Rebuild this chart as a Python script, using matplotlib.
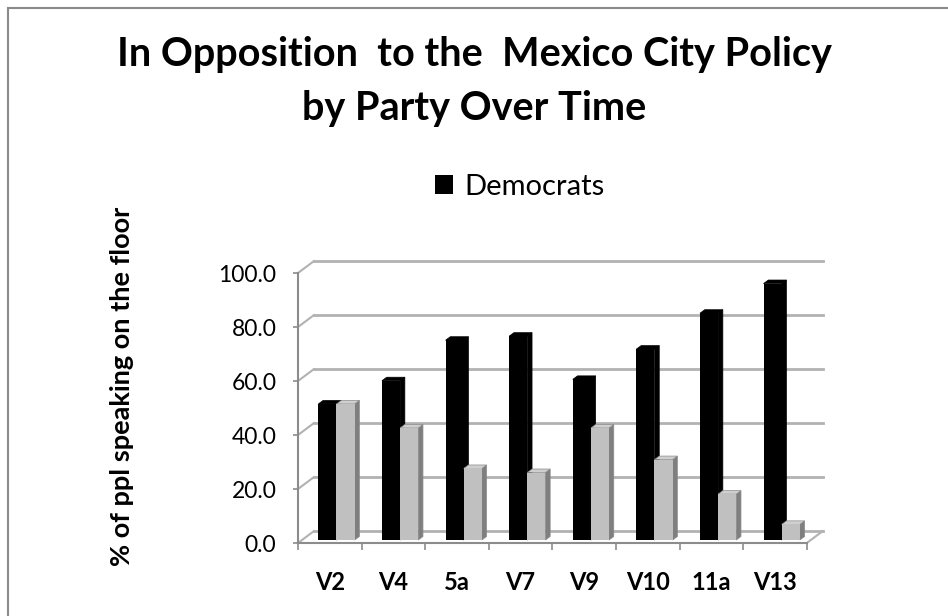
import matplotlib.pyplot as plt
from matplotlib.patches import Polygon, Rectangle

# opposition share per vote, by party
categories = ['V2', 'V4', '5a', 'V7', 'V9', 'V10', '11a', 'V13']
democrats = [50.4, 59.0, 74.0, 75.5, 59.5, 70.7, 84.0, 95.0]
republicans = [50.4, 41.5, 26.5, 25.0, 41.5, 29.8, 17.0, 5.8]
y_ticks = [0, 20, 40, 60, 80, 100]

plt.rcParams['font.family'] = 'Lato'

W, H = 948, 616
fig = plt.figure(figsize=(W / 100, H / 100), dpi=100)

# chart area border
fig.patches.append(Rectangle((8 / W, -0.05), 1.1, 1.05 - 8 / H, transform=fig.transFigure,
                             fill=False, edgecolor='#8a8a8a', lw=1.5))

# plot area: x in category units, y in percent
px_x, org_x = 63.6, 298
px_y, org_y = 2.7, 543
xmin, xmax, ymin, ymax = -0.3, 8.5, -6, 110
left = org_x + xmin * px_x
right = org_x + xmax * px_x
bottom = org_y - ymin * px_y
top = org_y - ymax * px_y
ax = fig.add_axes([left / W, 1 - bottom / H, (right - left) / W, (bottom - top) / H])
ax.set_xlim(xmin, xmax)
ax.set_ylim(ymin, ymax)

# depth of the box and of the bars
DX, DY = 0.25, 4.4
BX, BY = 0.06, 1.1
SX, SY = 0.075, 1.3
n = len(categories)
grid_col = '#b2b2b2'
axis_col = '#8c8c8c'

# back wall gridlines and left wall stubs
for v in y_ticks:
    ax.plot([DX, n + DX], [v + DY, v + DY], color=grid_col, lw=2, zorder=1)
    ax.plot([0, DX], [v, v + DY], color=grid_col, lw=1.5, zorder=1)
ax.plot([n, n + DX], [0, DY], color=grid_col, lw=1.5, zorder=1)

# bars: front faces through ax.bar, sides and tops as polygons
xs_d = [i + 0.32 for i in range(n)]
xs_r = [i + 0.605 for i in range(n)]
bw = 0.285
ax.bar(xs_d, democrats, width=bw, bottom=BY, align='edge', color='black',
       label='Democrats', zorder=3)
ax.bar(xs_r, republicans, width=bw, bottom=BY, align='edge', color='#c0c0c0',
       zorder=5)


def box_faces(x0, val, face_top, face_side, z, edge):
    x1 = x0 + bw
    t = BY + val
    side = [(x1, BY), (x1 + SX, BY + SY), (x1 + SX, t + SY), (x1, t)]
    cap = [(x0, t), (x1, t), (x1 + SX, t + SY), (x0 + SX, t + SY)]
    ax.add_patch(Polygon(side, closed=True, facecolor=face_side, edgecolor=edge, lw=0.5, zorder=z))
    ax.add_patch(Polygon(cap, closed=True, facecolor=face_top, edgecolor=edge, lw=0.5, zorder=z))


for x0, v in zip(xs_d, democrats):
    box_faces(x0, v, 'black', 'black', 2, 'black')
for x0, v in zip(xs_r, republicans):
    box_faces(x0, v, '#cfcfcf', '#7f7f7f', 4, '#8a8a8a')

# axes
for s in ['top', 'right']:
    ax.spines[s].set_visible(False)
ax.spines['left'].set_position(('data', 0))
ax.spines['bottom'].set_position(('data', 0))
ax.spines['left'].set_bounds(0, 100)
ax.spines['bottom'].set_bounds(0, n)
for s in ['left', 'bottom']:
    ax.spines[s].set_color(axis_col)
    ax.spines[s].set_linewidth(1.5)
    ax.spines[s].set_zorder(6)

ax.set_yticks(y_ticks)
ax.set_yticklabels([f'{v:.1f}' for v in y_ticks])
ax.tick_params(axis='y', length=3.6, width=1.2, color=axis_col, pad=12, labelsize=16.5)

ax.set_xticks(range(n + 1))
ax.set_xticklabels([])
ax.set_xticks([i + 0.5 for i in range(n)], minor=True)
ax.set_xticklabels(categories, minor=True, fontweight='bold', fontsize=17)
ax.tick_params(axis='x', which='major', length=5, width=1.2, color=axis_col)
ax.tick_params(axis='x', which='minor', length=0, pad=20)

# titles and legend
fig.text(474 / W, 1 - 66 / H, 'In Opposition  to the  Mexico City Policy', ha='center',
         va='baseline', fontsize=28.5, fontweight='bold')
fig.text(474 / W, 1 - 120 / H, 'by Party Over Time', ha='center', va='baseline',
         fontsize=28.5, fontweight='bold')
fig.text(122 / W, 1 - 386 / H, '% of ppl speaking on the floor', rotation=90, ha='center',
         va='center', fontsize=19.5, fontweight='bold')
fig.legend(loc='center', bbox_to_anchor=(520 / W, 1 - 187 / H), frameon=False, fontsize=21,
           handlelength=0.62, handleheight=0.62, handletextpad=0.4)

fig.savefig('out.png', dpi=100)
